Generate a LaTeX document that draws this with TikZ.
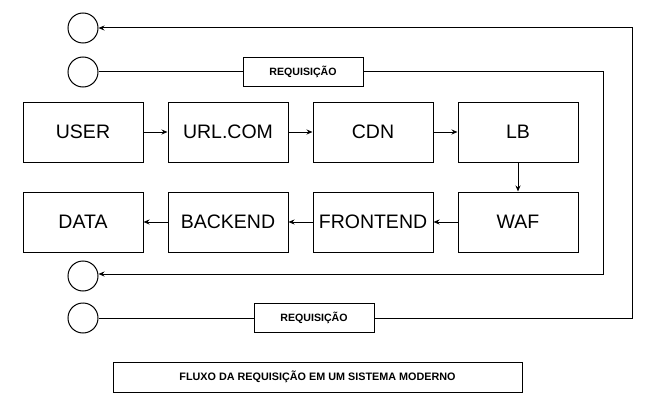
\documentclass[tikz,border=0pt]{standalone}
\usepackage{fontspec}
\setmainfont{Liberation Sans}
\usetikzlibrary{arrows.meta}
\begin{document}
\begin{tikzpicture}[x=1pt,y=-1pt,line width=1pt,
  blk/.style={draw,minimum width=120pt,minimum height=60pt,inner sep=0pt,font=\fontsize{19.5}{22}\selectfont},
  req/.style={draw,minimum width=120pt,minimum height=29pt,inner sep=0pt,font=\fontsize{10.6}{12}\selectfont\bfseries},
  circ/.style={draw,circle,minimum size=30pt,inner sep=0pt},
  arr/.style={-{Stealth[length=6pt,width=5pt]}}]
\useasboundingbox (0,0) rectangle (656,404);
\node[blk] (user) at (83,132) {USER};
\node[blk] (url) at (228,132) {URL.COM};
\node[blk] (cdn) at (373,132) {CDN};
\node[blk] (lb) at (518,132) {LB};
\node[blk] (data) at (83,222) {DATA};
\node[blk] (back) at (228,222) {BACKEND};
\node[blk] (front) at (373,222) {FRONTEND};
\node[blk] (waf) at (518,222) {WAF};
\draw[arr] (user) -- (url);
\draw[arr] (url) -- (cdn);
\draw[arr] (cdn) -- (lb);
\draw[arr] (lb) -- (waf);
\draw[arr] (waf) -- (front);
\draw[arr] (front) -- (back);
\draw[arr] (back) -- (data);
\node[circ] (c1) at (83,28) {};
\node[circ] (c2) at (83,72) {};
\node[circ] (c3) at (83,276) {};
\node[circ] (c4) at (83,318) {};
\node[req] (r1) at (303,72) {REQUISIÇÃO};
\node[req] (r2) at (314,318) {REQUISIÇÃO};
\coordinate (a1) at (603,72);
\coordinate (a2) at (603,274);
\coordinate (b1) at (632,318);
\coordinate (b2) at (632,28);
\draw (c2) -- (r1);
\draw[arr] (r1) -- (a1) -- (a2) -- (c3.east |- a2);
\draw (c4) -- (r2);
\draw[arr] (r2) -- (b1) -- (b2) -- (c1);
\node[draw,minimum width=409pt,minimum height=30pt,inner sep=0pt,font=\fontsize{10.8}{12}\selectfont\bfseries] (title) at (317.5,377) {FLUXO DA REQUISIÇÃO EM UM SISTEMA MODERNO};
\end{tikzpicture}
\end{document}
